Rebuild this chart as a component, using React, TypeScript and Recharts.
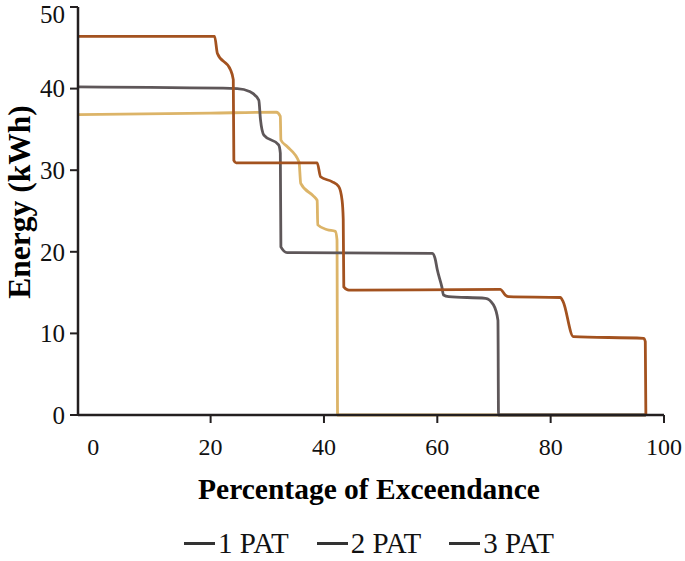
import { LineChart, Line, XAxis, YAxis, Label } from 'recharts'

// flow duration style curves, x = % exceedance, y = energy (kWh)
const pat1X = [-3.4, 20, 31.6, 32.3, 32.4, 33.5, 35.6, 35.9, 38.2, 38.8, 38.9, 40.6, 42.0, 42.3, 42.4, 70.8, 96.8]
const pat1Y = [36.8, 37.0, 37.1, 36.6, 33.7, 32.9, 31.0, 28.4, 26.8, 26.3, 23.3, 22.7, 22.5, 21.5, 0, 0, 0]

const pat2X = [-3.4, 24.7, 27.0, 28.5, 28.8, 29.4, 32.0, 32.3, 32.4, 33.5, 35.0, 59.1, 59.6, 60.0, 60.8, 61.1, 62.0, 68.5, 69.9, 70.7, 70.8, 96.8]
const pat2Y = [40.2, 40.0, 39.6, 38.6, 36.2, 34.3, 33.1, 32.1, 20.6, 19.9, 19.9, 19.8, 19.2, 17.8, 15.7, 14.7, 14.5, 14.3, 13.5, 11.6, 0, 0]

const pat3X = [-3.4, 20.7, 21.2, 23.5, 24.0, 24.1, 24.5, 38.8, 39.4, 41.4, 42.6, 43.2, 43.4, 43.5, 44.4, 71.1, 72.0, 72.6, 81.7, 82.2, 84.0, 96.4, 96.7, 96.8]
const pat3Y = [46.4, 46.4, 44.3, 42.3, 41.1, 31.2, 30.9, 30.9, 29.2, 28.6, 28.0, 26.3, 24.0, 15.7, 15.3, 15.4, 14.7, 14.5, 14.4, 13.9, 9.6, 9.4, 9.0, 0]

const seriesNames = ['1 PAT', '2 PAT', '3 PAT']
const seriesColors = ['#dcb468', '#5e5759', '#a3521f']
const xTicks = [0, 20, 40, 60, 80, 100]
const yTicks = [0, 10, 20, 30, 40, 50]

const toPoints = (xs: number[], ys: number[]) => xs.map((x, i) => ({ x, y: ys[i] }))

const series = [
  { name: seriesNames[0], color: seriesColors[0], data: toPoints(pat1X, pat1Y) },
  { name: seriesNames[1], color: seriesColors[1], data: toPoints(pat2X, pat2Y) },
  { name: seriesNames[2], color: seriesColors[2], data: toPoints(pat3X, pat3Y) },
]

const font = 'Liberation Serif'
const axisColor = '#231f20'

const XTick = (props: any) => {
  const { x, y, payload } = props
  return (
    <g>
      {payload.value !== 0 && <line x1={x} x2={x} y1={y - 23} y2={y - 15} stroke={axisColor} strokeWidth={2} />}
      <text x={payload.value === 0 ? x - 4 : x} y={y} dy="0.71em" textAnchor="middle" fontSize={24} fontFamily={font} fill="#111">
        {payload.value}
      </text>
    </g>
  )
}

export default function App() {
  return (
    <div style={{ position: 'absolute', left: 0, top: 0, width: 685, height: 561, background: '#fff', fontFamily: font }}>
      <LineChart width={685} height={561} margin={{ top: 7, right: 21, left: 0, bottom: 46 }} style={{ fontFamily: font }}>
        <XAxis
          type="number"
          dataKey="x"
          domain={[-3.4, 100]}
          ticks={xTicks}
          height={100}
          tickLine={false}
          tickSize={8}
          tickMargin={15}
          tick={<XTick />}
          axisLine={{ stroke: axisColor, strokeWidth: 2.5 }}
          allowDataOverflow
        >
          <Label
            content={() => (
              <text x={369} y={499} textAnchor="middle" fontSize={29.5} fontWeight="bold" fontFamily={font} fill="#000">
                Percentage of Exceendance
              </text>
            )}
          />
        </XAxis>
        <YAxis
          type="number"
          domain={[0, 50]}
          ticks={yTicks}
          width={78}
          tickSize={8}
          tickMargin={5}
          tick={{ fontSize: 25, fontFamily: font, fill: '#111' }}
          tickLine={{ stroke: axisColor, strokeWidth: 2 }}
          axisLine={{ stroke: axisColor, strokeWidth: 2.5 }}
        >
          <Label
            content={() => (
              <text
                x={19}
                y={202}
                transform="rotate(-90, 19, 202)"
                textAnchor="middle"
                dominantBaseline="central"
                fontSize={31.5}
                fontWeight="bold"
                fontFamily={font}
                fill="#000"
              >
                Energy (kWh)
              </text>
            )}
          />
        </YAxis>
        {series.map((s) => (
          <Line
            key={s.name}
            data={s.data}
            dataKey="y"
            name={s.name}
            type="monotone"
            stroke={s.color}
            strokeWidth={2.8}
            dot={false}
            activeDot={false}
            isAnimationActive={false}
          />
        ))}
      </LineChart>
      <div
        style={{
          position: 'absolute',
          top: 527,
          left: 0,
          width: 685,
          boxSizing: 'border-box',
          display: 'flex',
          justifyContent: 'center',
          gap: 28,
          fontFamily: font,
          fontSize: 29,
          color: '#111',
          paddingLeft: 53,
        }}
      >
        {series.map((s) => (
          <div key={s.name} style={{ display: 'flex', alignItems: 'center', gap: 3 }}>
            <span style={{ display: 'inline-block', width: 31, height: 2.5, background: '#333' }} />
            <span>{s.name}</span>
          </div>
        ))}
      </div>
    </div>
  )
}
